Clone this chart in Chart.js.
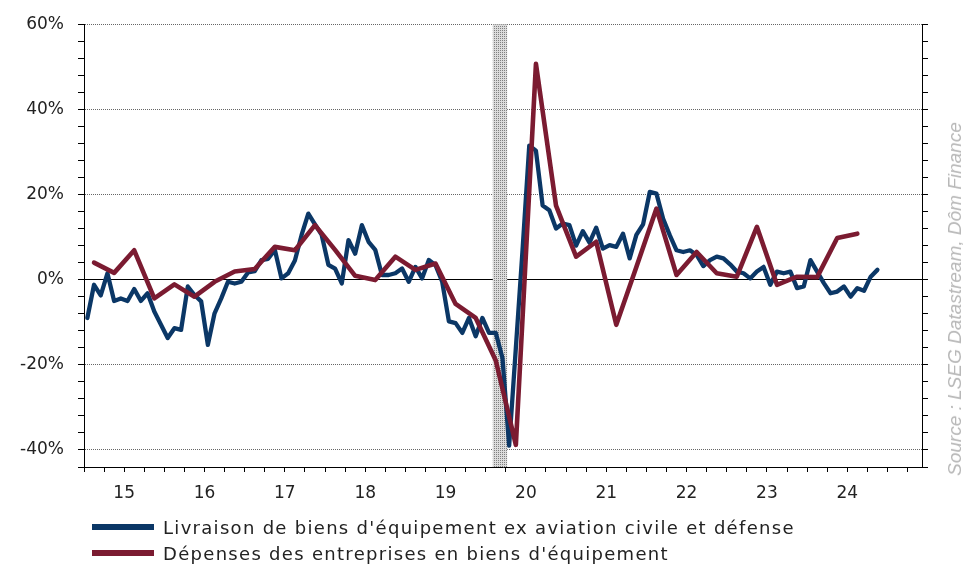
<!DOCTYPE html>
<html lang="fr">
<head>
<meta charset="utf-8">
<script src="https://cdn.jsdelivr.net/npm/chart.js@4.4.1/dist/chart.umd.min.js"></script>
<style>
  html, body { margin: 0; padding: 0; background: #fff; }
  #wrap { position: relative; width: 963px; height: 564px; overflow: hidden; }
  #chart { position: absolute; left: 0; top: 0; }
  #legend { position: absolute; left: 92px; top: 514px; font-family: "DejaVu Sans", sans-serif; font-size: 18px; letter-spacing: 1.3px; color: #222; }
  .row { display: flex; align-items: center; height: 26px; white-space: nowrap; }
  .swatch { width: 62px; height: 6px; margin-right: 9px; }
  #source { position: absolute; left: 955px; top: 299px; transform: translate(-50%, -50%) rotate(-90deg);
            white-space: nowrap; font-family: "Liberation Sans", sans-serif; font-style: italic; font-size: 19px; color: #b8b8b8; }
</style>
</head>
<body>
<div id="wrap">
  <canvas id="chart" width="963" height="564"></canvas>
  <div id="legend"></div>
  <div id="source">Source : LSEG Datastream, Dôm Finance</div>
</div>
<script>
const seriesNames = ["Livraison de biens d'équipement ex aviation civile et défense", "Dépenses des entreprises en biens d'équipement"];
const seriesColors = ['#0b3766', '#7b1b31'];

// livraisons, mensuel, glissement annuel en %, janv. 2015 -> nov. 2024
const livraisons = [
  -9.0, -1.2, -3.7, 1.5, -5.0, -4.4, -5.0, -2.2, -5.0, -3.2, -7.5, -10.6,
  -13.7, -11.4, -11.8, -1.6, -3.6, -5.1, -15.3, -7.9, -4.4, -0.5, -0.9, -0.5,
  1.7, 2.0, 4.6, 4.9, 7.0, 0.3, 1.5, 4.5, 10.5, 15.5, 13.0, 10.5,
  3.5, 2.6, -0.9, 9.3, 6.1, 12.8, 8.9, 7.0, 1.1, 1.1, 1.5, 2.6,
  -0.5, 3.0, 0.3, 4.6, 3.4, -0.5, -9.8, -10.2, -12.5, -9.0, -13.3, -9.0,
  -12.5, -12.5, -18.4, -39.0, -16.0, 7.0, 31.5, 30.3, 17.4, 16.3, 12.0, 13.2,
  12.8, 8.0, 11.4, 8.7, 12.2, 7.3, 8.1, 7.7, 10.8, 5.0, 10.5, 13.0,
  20.6, 20.2, 14.3, 10.4, 6.9, 6.5, 6.9, 5.8, 3.2, 4.6, 5.4, 5.0,
  3.6, 1.9, 1.5, 0.3, 1.9, 3.0, -1.2, 1.9, 1.5, 1.9, -2.0, -1.6,
  4.6, 1.9, -0.8, -3.2, -2.8, -1.6, -4.0, -2.0, -2.6, 0.7, 2.3
];

// depenses, trimestriel, T1 2015 -> T3 2024
const depenses = [
  4.0, 1.6, 6.9, -4.4, -1.1, -4.0, -0.5, 1.9, 2.5, 7.7, 6.9, 12.8,
  7.0, 0.9, -0.1, 5.4, 2.3, 3.8, -5.7, -9.0, -19.0, -38.8, 50.7, 17.4,
  5.4, 8.9, -10.6, 3.0, 16.7, 1.1, 6.5, 1.5, 0.7, 12.4, -1.2, 0.7,
  0.6, 9.8, 10.8
];

const yearLabels = ['15', '16', '17', '18', '19', '20', '21', '22', '23', '24'];
const recession = [2020.085, 2020.27]; // fev. -> avr. 2020

// points au milieu du mois / du trimestre
const monthly = livraisons.map((v, i) => ({ x: 2015 + (i + 0.5) / 12, y: v }));
const quarterly = depenses.map((v, i) => ({ x: 2015 + (i * 3 + 1.5) / 12, y: v }));

// trame pointillee de la zone de recession
const pc = document.createElement('canvas');
pc.width = 2; pc.height = 2;
const pg = pc.getContext('2d');
pg.fillStyle = '#dcdcdc'; pg.fillRect(0, 0, 2, 2);
pg.fillStyle = '#808080'; pg.fillRect(0, 0, 1, 1);
const stipple = pg.createPattern(pc, 'repeat');

const tickFont = { family: 'DejaVu Sans', size: 17 };

new Chart(document.getElementById('chart'), {
  type: 'line',
  data: {
    datasets: [
      {
        label: 'recession',
        data: recession.map(x => ({ x: x, y: 60 })),
        fill: 'start',
        backgroundColor: stipple,
        borderWidth: 0,
        pointRadius: 0,
        order: 2
      },
      {
        label: seriesNames[0],
        data: monthly,
        borderColor: seriesColors[0],
        borderWidth: 4.3,
        borderJoinStyle: 'round',
        borderCapStyle: 'round',
        pointRadius: 0,
        fill: false,
        order: 1
      },
      {
        label: seriesNames[1],
        data: quarterly,
        borderColor: seriesColors[1],
        borderWidth: 4.6,
        borderJoinStyle: 'round',
        borderCapStyle: 'round',
        pointRadius: 0,
        fill: false,
        order: 0
      }
    ]
  },
  options: {
    responsive: false,
    animation: false,
    devicePixelRatio: 1,
    layout: { padding: { top: 21, left: 0, right: 0, bottom: 0 } },
    plugins: { legend: { display: false }, tooltip: { enabled: false } },
    scales: {
      x: {
        type: 'linear',
        min: 2015,
        max: 2025.43,
        afterFit: s => { s.height = 97; },
        grid: { drawOnChartArea: false, tickLength: 5, tickColor: '#000' },
        border: { color: '#000', width: 1 },
        ticks: {
          stepSize: 0.25,
          includeBounds: false,
          autoSkip: false,
          maxRotation: 0,
          padding: 11,
          color: '#222',
          font: tickFont,
          callback: v => Math.abs(v % 1 - 0.5) < 1e-6 ? yearLabels[Math.floor(v) - 2015] : ''
        }
      },
      y: {
        position: 'left',
        min: -44,
        max: 60,
        afterFit: s => { s.width = 84; },
        grid: {
          color: c => {
            const v = c.tick ? c.tick.value : 1;
            if (v === 0) return '#000';
            return (v % 20 === 0 && v > -44) ? '#666' : 'rgba(0,0,0,0)';
          },
          tickLength: 6,
          tickColor: '#000'
        },
        border: {
          color: '#000',
          width: 1,
          dash: c => (c.tick && c.tick.value === 0) ? [] : [1, 1]
        },
        ticks: {
          stepSize: 4,
          autoSkip: false,
          padding: 14,
          color: '#222',
          font: tickFont,
          callback: v => v % 20 === 0 ? v + '%' : ''
        }
      },
      y2: {
        position: 'right',
        min: -44,
        max: 60,
        afterFit: s => { s.width = 41; },
        grid: { drawOnChartArea: false, tickLength: 6, tickColor: '#000' },
        border: { color: '#000', width: 1 },
        ticks: { stepSize: 4, autoSkip: false, display: false }
      }
    }
  }
});

// legende
const legend = document.getElementById('legend');
seriesNames.forEach((name, i) => {
  const row = document.createElement('div');
  row.className = 'row';
  row.innerHTML = '<span class="swatch" style="background:' + seriesColors[i] + '"></span><span>' + name + '</span>';
  legend.appendChild(row);
});
</script>
</body>
</html>
